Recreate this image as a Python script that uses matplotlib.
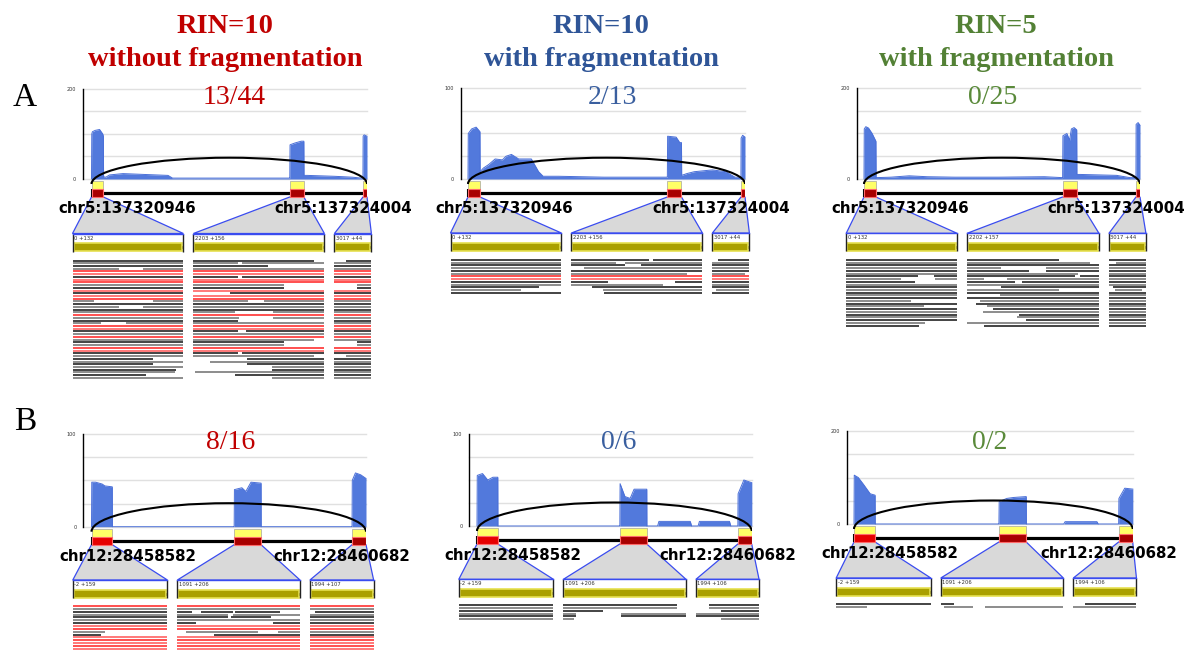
import matplotlib
matplotlib.use('Agg')
import matplotlib.pyplot as plt
from matplotlib.patches import Rectangle, Polygon, Arc

W, H = 1199, 650

# ---------------- data ----------------
col_titles_1 = ['RIN=10', 'RIN=10', 'RIN=5']
col_titles_2 = ['without fragmentation', 'with fragmentation', 'with fragmentation']
col_colors = ['#c00000', '#2f5597', '#538135']
ratio_colors = ['#c00000', '#3a5f9f', '#5a8a3a']
row_letters = ['A', 'B']
junction_labels = [['chr5:137320946', 'chr5:137324004'],
                   ['chr12:28458582', 'chr12:28460682']]
cov_max = [[200, 100, 200], [100, 100, 200]]

# exons (offset, length) as printed in the zoom boxes
exon_start_A1 = [0, 2203, 3017]
exon_len_A1 = [132, 156, 44]
exon_start_A2 = [0, 2203, 3017]
exon_len_A2 = [132, 156, 44]
exon_start_A3 = [0, 2202, 3017]
exon_len_A3 = [132, 157, 44]
exon_start_B1 = [-2, 1091, 1994]
exon_len_B1 = [159, 206, 107]
exon_start_B2 = [-2, 1091, 1994]
exon_len_B2 = [159, 206, 106]
exon_start_B3 = [-2, 1091, 1994]
exon_len_B3 = [159, 206, 106]

# coverage profiles
cov_x_A1 = [0, 3, 10, 40, 90, 125, 132, 134, 160, 200, 350, 600, 850, 900, 1500, 2150,
            2200, 2203, 2206, 2260, 2330, 2359, 2361, 2400, 2700, 2900, 3000, 3016, 3018, 3030, 3061]
cov_y_A1 = [0, 100, 105, 108, 110, 100, 95, 5, 4, 9, 12, 10, 8, 2, 2, 2,
            2, 2, 76, 80, 84, 84, 8, 8, 6, 4, 2, 2, 95, 98, 95]
cov_x_A2 = [0, 3, 40, 90, 132, 134, 170, 230, 300, 380, 420, 480, 560, 700, 780, 830, 1000,
            1500, 2200, 2203, 2206, 2300, 2340, 2359, 2361, 2420, 2500, 2700, 2850, 2950, 3016,
            3018, 3035, 3061]
cov_y_A2 = [0, 50, 55, 57, 52, 8, 12, 16, 22, 21, 25, 27, 22, 22, 8, 3, 3,
            2, 2, 2, 47, 46, 40, 40, 4, 6, 8, 10, 8, 2, 2,
            45, 48, 46]
cov_x_A3 = [0, 3, 20, 50, 90, 132, 134, 300, 500, 700, 1000, 1500, 2000, 2200, 2203, 2206,
            2250, 2280, 2300, 2330, 2359, 2361, 2400, 2600, 2800, 2950, 3016, 3018, 3040, 3061]
cov_y_A3 = [0, 110, 115, 112, 100, 83, 3, 4, 7, 5, 4, 4, 5, 3, 3, 95,
            100, 85, 110, 113, 108, 10, 10, 9, 8, 3, 3, 120, 124, 118]
cov_x_B1 = [-2, 0, 30, 80, 100, 157, 158, 1090, 1091, 1093, 1150, 1180, 1220, 1297, 1298,
            1993, 1994, 1996, 2020, 2060, 2101]
cov_y_B1 = [0, 48, 48, 46, 44, 43, 0, 0, 0, 40, 42, 38, 48, 47, 0,
            0, 0, 50, 58, 56, 52]
cov_x_B2 = [-2, 0, 40, 80, 120, 157, 158, 1090, 1091, 1093, 1130, 1170, 1200, 1297, 1298,
            1380, 1390, 1630, 1640, 1690, 1700, 1930, 1940, 1994, 1996, 2040, 2101]
cov_y_B2 = [0, 55, 57, 50, 53, 53, 0, 0, 0, 46, 32, 30, 40, 40, 0,
            0, 5, 5, 0, 0, 5, 5, 0, 0, 35, 50, 47]
cov_x_B3 = [-2, 0, 30, 70, 120, 157, 158, 1090, 1091, 1093, 1150, 1200, 1297, 1298,
            1580, 1590, 1830, 1840, 1994, 1996, 2040, 2101]
cov_y_B3 = [0, 105, 100, 85, 65, 62, 0, 0, 0, 48, 55, 57, 59, 0,
            0, 5, 5, 0, 0, 55, 77, 75]

# reads: count, red (rows), partial rows {(row, box): [(from, to) as box fraction]}
n_reads_A1 = 44
red_A1 = [4, 5, 7, 8, 11, 13, 14, 20, 24, 25, 28, 32, 33]
part_A1 = {(0, 1): [(0, .92)], (0, 2): [(.3, 1)], (1, 1): [(0, .34), (.37, 1)],
           (2, 1): [(0, .57)], (3, 0): [(0, .42), (.64, 1)], (6, 1): [(0, .34), (.37, 1)],
           (9, 1): [(0, .69)], (9, 2): [(.6, 1)], (10, 1): [(0, .69)], (10, 2): [(.6, 1)],
           (12, 1): [(.28, 1)], (15, 0): [(0, .19), (.73, 1)], (15, 1): [(0, .42), (.54, 1)],
           (17, 0): [(0, .42), (.64, 1)], (19, 1): [(0, .32), (.61, 1)],
           (21, 1): [(0, .35), (.61, 1)], (22, 1): [(0, .34)], (23, 0): [(0, .26), (.48, 1)],
           (26, 1): [(0, .34), (.40, 1)], (29, 1): [(0, .92)], (30, 1): [(0, .69)],
           (30, 2): [(.6, 1)], (31, 1): [(0, .69)], (31, 2): [(.6, 1)],
           (34, 1): [(0, .34), (.37, 1)], (35, 1): [(0, .92)], (35, 2): [(.3, 1)],
           (36, 0): [(0, .73)], (36, 1): [(.41, 1)], (37, 1): [(.13, 1)],
           (38, 0): [(0, .73)], (38, 1): [(.41, 1)], (39, 1): [(.6, 1)],
           (40, 0): [(0, .93)], (40, 1): [(.6, 1)], (41, 0): [(0, .92)], (41, 1): [(.01, 1)],
           (42, 0): [(0, .66)], (42, 1): [(.32, 1)], (43, 1): [(.6, 1)]}
n_reads_A2 = 13
red_A2 = [6, 7]
part_A2 = {(0, 1): [(0, .59), (.62, 1)], (0, 2): [(.15, 1)], (1, 1): [(0, .34), (.41, 1)],
           (2, 1): [(0, .41), (.53, 1)], (3, 1): [(.1, 1)], (5, 1): [(0, .88)],
           (5, 2): [(0, .88)], (8, 1): [(0, .28), (.79, 1)], (9, 1): [(0, .7)],
           (10, 0): [(0, .8)], (10, 1): [(.16, 1)], (11, 0): [(0, .64)], (11, 1): [(.24, 1)],
           (11, 2): [(.1, 1)], (12, 1): [(.25, 1)]}
n_reads_A3 = 25
red_A3 = []
part_A3 = {(0, 1): [(0, .7)], (1, 1): [(0, .93)], (1, 2): [(.2, 1)],
           (3, 1): [(0, .26), (.6, 1)], (4, 1): [(0, .47), (.6, 1)], (5, 1): [(0, .84)],
           (6, 0): [(0, .65), (.79, 1)], (6, 1): [(0, .82), (.86, 1)],
           (7, 0): [(0, .49), (.8, 1)], (7, 1): [(0, .13), (.3, 1)],
           (8, 0): [(0, .62)], (8, 1): [(0, .36), (.42, 1)], (10, 1): [(.26, 1)],
           (10, 2): [(.1, 1)], (11, 1): [(0, .7)], (11, 2): [(.15, .9)], (13, 1): [(.25, 1)],
           (15, 0): [(0, .58)], (15, 1): [(.1, 1)], (16, 1): [(.07, 1)],
           (17, 0): [(0, .7)], (17, 1): [(.15, 1)], (18, 1): [(.2, 1)], (19, 1): [(.12, 1)],
           (20, 1): [(.39, 1)], (21, 1): [(.38, 1)], (22, 1): [(.45, 1)],
           (23, 0): [(0, .71)], (24, 0): [(0, .66)], (24, 1): [(.13, 1)]}
n_reads_B1 = 16
red_B1 = [0, 7, 8, 11, 12, 13, 14, 15]
part_B1 = {(2, 1): [(0, .12), (.19, .45), (.47, .84)], (2, 2): [(.08, 1)],
           (3, 1): [(0, .41), (.45, 1)], (4, 1): [(0, .41), (.44, .76)],
           (6, 1): [(0, .15), (.78, 1)], (9, 0): [(0, .34)], (9, 1): [(.07, .66), (.82, 1)],
           (10, 0): [(0, .3)], (10, 1): [(.3, 1)]}
n_reads_B2 = 6
red_B2 = []
part_B2 = {(0, 1): [(0, .93)], (0, 2): [(.2, 1)], (1, 1): [(0, .93)], (1, 2): [(.2, 1)],
           (2, 1): [(0, .32)], (2, 2): [(.4, 1)], (3, 1): [(0, .1), (.47, 1)],
           (4, 1): [(0, .1), (.47, 1)], (5, 1): [(0, .09)], (5, 2): [(.4, 1)]}
n_reads_B3 = 2
red_B3 = []
part_B3 = {(0, 1): [(0, .11)], (0, 2): [(.18, 1)], (1, 0): [(0, .33)],
           (1, 1): [(.03, .26), (.36, 1)]}

# ---------------- layout (pixels) ----------------
axis_x = [[83, 461, 856.7], [83.3, 469.3, 846.7]]
cov_top = [[89, 88, 88], [434, 434, 431]]
cov_base = [[179, 179, 179], [526.7, 526, 524]]
gene_x0 = [[91.5, 468, 864], [91.5, 477, 854]]
gene_x1 = [[367, 745, 1140], [366, 751.7, 1132.7]]
box_top = [[233.5, 233, 233.3], [580, 579.3, 578]]
reads_top = [[260.5, 260, 260], [606, 605, 604]]
read_step = [2.73, 2.85]
box_scale = [0.84, 0.595]
arc_peak = [21.3, 23.5]
ratio_x = [[234.5, 612, 992.7], [231, 619, 990]]
ratio_y = [104, 449]
title_x = [225, 601.5, 996]
letter_y = [106, 430]

panels = [
    [(exon_start_A1, exon_len_A1, cov_x_A1, cov_y_A1, n_reads_A1, red_A1, part_A1),
     (exon_start_A2, exon_len_A2, cov_x_A2, cov_y_A2, n_reads_A2, red_A2, part_A2),
     (exon_start_A3, exon_len_A3, cov_x_A3, cov_y_A3, n_reads_A3, red_A3, part_A3)],
    [(exon_start_B1, exon_len_B1, cov_x_B1, cov_y_B1, n_reads_B1, red_B1, part_B1),
     (exon_start_B2, exon_len_B2, cov_x_B2, cov_y_B2, n_reads_B2, red_B2, part_B2),
     (exon_start_B3, exon_len_B3, cov_x_B3, cov_y_B3, n_reads_B3, red_B3, part_B3)],
]

fig = plt.figure(figsize=(W / 100, H / 100), dpi=100)


def frac_rect(x0, y0, x1, y1):
    return [x0 / W, 1 - y1 / H, (x1 - x0) / W, (y1 - y0) / H]


overlay = fig.add_axes([0, 0, 1, 1])
overlay.set_xlim(0, W)
overlay.set_ylim(H, 0)
overlay.axis('off')
overlay.set_zorder(0)


def draw_panel(r, c, exon_start, exon_len, cov_x, cov_y, n_reads, red_rows, partial):
    ax_x = axis_x[r][c]
    top, base = cov_top[r][c], cov_base[r][c]
    gs, ge = gene_x0[r][c], gene_x1[r][c]
    bp0 = exon_start[0]
    bp1 = exon_start[-1] + exon_len[-1]
    scale = (ge - gs) / (bp1 - bp0)
    xl = bp0 - (gs - ax_x) / scale
    ymax = cov_max[r][c]

    # coverage track
    ax = fig.add_axes(frac_rect(ax_x, top, ge, base))
    ax.set_zorder(1)
    ax.patch.set_visible(False)
    ax.set_xlim(xl, bp1)
    ax.set_ylim(0, ymax)
    for v in [0, .25, .5, .75, 1]:
        ax.axhline(v * ymax, color='#e0e0e0', lw=1, zorder=0, clip_on=False)
    ax.fill_between(cov_x, cov_y, 0, color='#5279dc', lw=0, zorder=2)
    ax.plot(cov_x, cov_y, color='#4a6fd8', lw=0.7, zorder=3, clip_on=False)
    for s in ['top', 'right', 'bottom']:
        ax.spines[s].set_visible(False)
    ax.spines['left'].set_linewidth(1.0)
    ax.set_xticks([])
    ax.set_yticks([0, ymax])
    ax.set_yticklabels(['0', str(ymax)])
    ax.tick_params(axis='y', length=0, labelsize=3.5, pad=5, labelcolor='#333333')

    # gene model + junction arc (y in pixels below the baseline)
    g = fig.add_axes(frac_rect(ax_x, base - 32, ge, base + 36))
    g.set_zorder(3)
    g.set_xlim(xl, bp1)
    g.set_ylim(36, -32)
    g.axis('off')
    g.plot([bp0, bp1], [14, 14], color='black', lw=2.3, solid_capstyle='butt', zorder=1)
    g.vlines([bp0, bp1], 10, 18, color='black', lw=1.5, zorder=1)
    for i, (s, L) in enumerate(zip(exon_start, exon_len)):
        g.add_patch(Rectangle((s, 2), L, 8, fc='#ffff66', ec='#b4b4a0', lw=0.6, zorder=2))
        fc = '#e60000' if (r == 1 and i == 0) else '#a80000'
        g.add_patch(Rectangle((s, 10), L, 8, fc=fc, ec='#ff6a6a', lw=0.8, zorder=2))
    g.add_patch(Arc(((bp0 + bp1) / 2, 5), bp1 - bp0, 2 * (5 + arc_peak[r]),
                    theta1=180, theta2=360, color='black', lw=1.5, zorder=4))
    lab_kw = dict(textcoords='offset points', ha='center', va='baseline', fontsize=10.8,
                  fontweight='bold', family='DejaVu Sans', annotation_clip=False, zorder=5)
    g.annotate(junction_labels[r][0], xy=(bp0, 34), xytext=(36 * 0.72, 0), **lab_kw)
    g.annotate(junction_labels[r][1], xy=(bp1, 34), xytext=(-24 * 0.72, 0), **lab_kw)

    # zoomed exons with reads
    bl = ax_x - 10.5
    btop = box_top[r][c]
    rt = reads_top[r][c] - btop
    sp = read_step[r]
    total = rt + n_reads * sp + 2
    for i, (s, L) in enumerate(zip(exon_start, exon_len)):
        w = L * box_scale[r]
        b = fig.add_axes(frac_rect(bl, btop, bl + w, btop + total))
        b.set_zorder(2)
        b.set_xlim(s, s + L)
        b.set_ylim(total, 0)
        b.axis('off')
        pad = 1 / box_scale[r]
        b.add_patch(Rectangle((s, 0), L, 18, fc='white', ec='none', zorder=1))
        b.plot([s, s + L], [13.5, 13.5], color='black', lw=2, solid_capstyle='butt', zorder=2)
        b.add_patch(Rectangle((s + pad, 9.5), L - 2 * pad, 8, fc='#aaa000', ec='#e6e050',
                              lw=1.2, zorder=3))
        b.vlines([s, s + L], 0, 18, color='#222222', lw=1.0, clip_on=False, zorder=4)
        b.plot([s, s + L], [0, 0], color='#3a4cf0', lw=1, clip_on=False, zorder=4)
        b.text(s + 1.5 * pad, 4.5, f'{s} +{L}', fontsize=3.8, va='center', ha='left',
               color='#333333', zorder=5)
        corners = [g.transData.transform((s, 18)), g.transData.transform((s + L, 18)),
                   b.transData.transform((s + L, 0)), b.transData.transform((s, 0))]
        corners = overlay.transData.inverted().transform(corners)
        overlay.add_patch(Polygon(corners, closed=True, fc='#d9d9d9', ec='#3a4cf0', lw=0.9))
        for k in range(n_reads):
            if k in red_rows:
                color = '#ff1f1f' if k % 2 == 0 else '#ff5555'
            else:
                color = '#111111' if k % 2 == 0 else '#6e6e6e'
            y = rt + k * sp
            for a, e in partial.get((k, i), [(0, 1)]):
                b.hlines(y, s + a * L, s + e * L, color=color, lw=1.1, clip_on=False, zorder=4)
        bl += w + 10

    fig.text(ratio_x[r][c] / W, 1 - ratio_y[r] / H, f'{len(red_rows)}/{n_reads}',
             ha='center', va='baseline', family='Liberation Serif', fontsize=20,
             color=ratio_colors[c], zorder=6)


for r in range(2):
    for c in range(3):
        draw_panel(r, c, *panels[r][c])

for c in range(3):
    fig.text(title_x[c] / W, 1 - 33 / H, col_titles_1[c], ha='center', va='baseline',
             family='Liberation Serif', fontweight='bold', fontsize=20.5, color=col_colors[c])
    fig.text(title_x[c] / W, 1 - 66 / H, col_titles_2[c], ha='center', va='baseline',
             family='Liberation Serif', fontweight='bold', fontsize=20.5, color=col_colors[c])
for r in range(2):
    fig.text(25 / W, 1 - letter_y[r] / H, row_letters[r], ha='center', va='baseline',
             family='Liberation Serif', fontsize=24, color='black')

fig.savefig('out.png', dpi=100)
